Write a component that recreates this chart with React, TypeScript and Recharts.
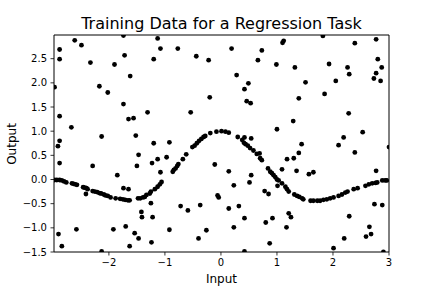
import { ReferenceArea, Scatter, ScatterChart, XAxis, YAxis } from "recharts";

// points that sit on the smooth curve
const curve: [number, number][] = [
  [-2.97, -0.01], [-2.93, -0.01], [-2.88, -0.01], [-2.84, -0.02], [-2.8, -0.04], [-2.76, -0.06],
  [-2.66, -0.08], [-2.63, -0.09], [-2.6, -0.1], [-2.57, -0.11], [-2.46, -0.16], [-2.43, -0.17],
  [-2.4, -0.18], [-2.38, -0.2], [-2.29, -0.24], [-2.25, -0.25], [-2.21, -0.26], [-2.17, -0.28],
  [-2.14, -0.29], [-2.09, -0.31], [-2.06, -0.33], [-2.02, -0.34], [-1.97, -0.37], [-1.88, -0.39],
  [-1.8, -0.4], [-1.75, -0.41], [-1.71, -0.42], [-1.66, -0.43], [-1.63, -0.43],
  [-1.48, -0.39], [-1.44, -0.39], [-1.39, -0.37], [-1.36, -0.36], [-1.33, -0.32], [-1.27, -0.29],
  [-1.25, -0.25], [-1.18, -0.2], [-1.13, -0.15], [-1.09, -0.1], [-1.06, -0.05],
  [-0.86, 0.16], [-0.84, 0.2], [-0.81, 0.23], [-0.78, 0.28], [-0.76, 0.32], [-0.68, 0.42],
  [-0.62, 0.52], [-0.51, 0.67], [-0.47, 0.7], [-0.43, 0.75], [-0.39, 0.8], [-0.35, 0.84],
  [-0.31, 0.88], [-0.28, 0.9], [-0.19, 0.96], [-0.08, 0.99], [0.01, 1.0], [0.08, 0.99],
  [0.14, 0.97], [0.3, 0.88], [0.38, 0.82], [0.41, 0.76], [0.44, 0.73], [0.48, 0.7],
  [0.52, 0.65], [0.58, 0.6], [0.64, 0.53], [0.7, 0.44], [0.73, 0.4], [0.84, 0.23],
  [0.88, 0.16], [0.91, 0.13], [0.94, 0.09], [0.97, 0.05], [1.0, 0.0], [1.03, -0.02],
  [1.09, -0.08], [1.15, -0.15], [1.18, -0.2], [1.21, -0.25], [1.31, -0.31], [1.36, -0.34],
  [1.4, -0.36], [1.45, -0.39], [1.47, -0.41], [1.6, -0.44], [1.65, -0.44], [1.72, -0.44],
  [1.77, -0.44], [1.83, -0.42], [1.89, -0.41], [1.95, -0.39], [2.01, -0.37], [2.1, -0.34],
  [2.16, -0.31], [2.22, -0.27], [2.26, -0.25], [2.37, -0.2], [2.44, -0.18], [2.58, -0.13],
  [2.64, -0.1], [2.7, -0.08], [2.76, -0.07], [2.79, -0.06], [2.88, -0.02], [2.93, -0.02],
  [2.96, -0.02],
];

// scattered noise points
const outliers: [number, number][] = [
  [-1.74, 2.98], [-1.13, 2.92], [-2.88, 2.69], [-2.61, 2.88], [-2.49, 2.78], [-2.88, 2.49],
  [-2.33, 2.42], [-1.9, 2.38], [-1.72, 2.57], [-1.2, 2.49], [-1.08, 2.71], [-1.62, 2.14],
  [-2.97, 1.91], [-2.17, 1.93], [-2.02, 1.8], [-1.74, 1.56], [-1.31, 1.39], [-2.88, 1.31],
  [-1.65, 1.25], [-1.56, 1.27], [-2.67, 1.08], [-2.13, 0.89], [-1.52, 0.91], [-2.88, 0.8],
  [-2.91, 0.69], [-1.2, 0.75], [-0.92, 0.77],
  [-0.77, 2.71], [0.19, 2.71], [0.73, 2.67], [-0.44, 2.55], [-0.22, 2.47], [0.66, 2.47],
  [0.99, 2.38], [0.28, 2.16], [0.49, 1.99], [0.42, 1.87], [-0.2, 1.7], [0.46, 1.62],
  [0.53, 1.58], [-0.54, 1.39], [1.0, 1.04], [0.54, 0.85], [0.42, 0.87],
  [1.12, 2.87], [1.1, 2.83], [1.82, 2.97], [2.39, 2.82], [2.77, 2.9], [1.32, 2.32],
  [1.93, 2.39], [2.26, 2.32], [2.8, 2.49], [2.87, 2.32], [2.77, 2.2], [2.73, 2.09],
  [2.85, 2.04], [2.29, 2.18], [1.51, 2.01], [2.05, 2.04], [1.85, 1.77], [1.39, 1.68],
  [2.28, 1.37], [1.29, 1.21], [2.53, 0.98], [2.19, 0.87], [1.44, 0.73], [2.1, 0.71],
  [3.0, 0.67],
  [-2.88, 0.34], [-2.29, 0.28], [-1.47, 0.51], [-1.5, 0.28], [-1.23, 0.34], [-1.13, 0.42],
  [-0.97, 0.46], [-1.08, 0.15], [-1.85, 0.09], [-1.74, -0.18], [-1.65, -0.2], [-1.42, -0.67],
  [-1.41, -0.78], [-1.22, -0.78], [-1.25, -0.49], [-2.9, -1.13], [-2.84, -1.38], [-2.58, -1.03],
  [-1.92, -1.03], [-1.7, -0.97], [-1.54, -1.11], [-1.47, -1.22], [-1.24, -1.3], [-1.63, -1.38],
  [-2.13, -1.49], [-0.92, -1.04], [-2.41, -0.3],
  [-0.11, 0.31], [0.14, 0.17], [0.23, -0.12], [-0.06, -0.33], [-0.04, -0.37], [-0.72, -0.55],
  [-0.59, -0.64], [-0.37, -0.53], [0.14, -0.6], [0.32, -0.55], [0.51, -0.06], [0.54, 0.09],
  [0.78, -0.24], [0.85, -0.3], [1.01, -0.13], [0.42, -0.8], [0.23, -0.99], [-0.26, -1.05],
  [-0.4, -1.22], [0.8, -0.89], [0.92, -0.8], [0.87, -1.32], [0.42, -1.49],
  [2.39, 0.56], [1.18, 0.42], [1.3, 0.44], [1.39, 0.55], [1.09, 0.21], [1.35, 0.18],
  [1.57, 0.11], [1.65, 0.15], [2.77, 0.18], [2.74, -0.51], [2.88, -0.53], [1.21, -0.7],
  [1.25, -0.78], [1.17, -0.99], [2.29, -0.76], [2.65, -0.98], [2.2, -1.22], [2.59, -1.18],
  [2.68, -1.13], [2.01, -1.42], [2.9, -1.5], [0.69, 0.54],
];

const xTicks = [-2, -1, 0, 1, 2, 3];
const yTicks = [-1.5, -1, -0.5, 0, 0.5, 1, 1.5, 2, 2.5];
const xDomain: [number, number] = [-2.98, 3.0];
const yDomain: [number, number] = [-1.5, 2.99];

const points = [...curve, ...outliers].map(([x, y]) => ({ x, y }));

const FONT = "'DejaVu Sans', sans-serif";

const fmt = (digits: number) => (v: number) =>
  (v < 0 ? "\u2212" : "") + Math.abs(v).toFixed(digits);

function Dot(props: any) {
  const { cx, cy } = props;
  if (cx == null || cy == null) return null;
  return <circle cx={cx} cy={cy} r={2.4} fill="#000" />;
}

const tickStyle = { fontSize: 10, fill: "#000", fontFamily: FONT };
const tickLine = { stroke: "#000", strokeWidth: 0.8 };

export default function App() {
  return (
    <div style={{ position: "absolute", left: 0, top: 0, background: "#fff" }}>
      <ScatterChart width={432} height={288} margin={{ top: 35, right: 43, bottom: 0, left: 0 }}>
        <XAxis
          type="number"
          dataKey="x"
          domain={xDomain}
          ticks={xTicks}
          interval={0}
          allowDataOverflow
          height={36}
          axisLine={false}
          tickLine={tickLine}
          tickSize={3.5}
          tickMargin={3.5}
          tick={tickStyle}
          tickFormatter={fmt(0)}
          label={{ value: "Input", position: "insideBottom", offset: 5, fontSize: 12, fill: "#000", fontFamily: FONT }}
        />
        <YAxis
          type="number"
          dataKey="y"
          domain={yDomain}
          ticks={yTicks}
          interval={0}
          allowDataOverflow
          width={54}
          axisLine={false}
          tickLine={tickLine}
          tickSize={3.5}
          tickMargin={3.5}
          tick={tickStyle}
          tickFormatter={fmt(1)}
          label={{
            content: () => (
              <text
                transform="translate(16, 144) rotate(-90)"
                textAnchor="middle"
                fontSize={12}
                fill="#000"
                fontFamily={FONT}
              >
                Output
              </text>
            ),
          }}
        />
        <ReferenceArea
          x1={xDomain[0]}
          x2={xDomain[1]}
          y1={yDomain[0]}
          y2={yDomain[1]}
          fill="none"
          stroke="#000"
          strokeWidth={1}
          label={{
            value: "Training Data for a Regression Task",
            position: "top",
            offset: 6,
            fontSize: 16,
            fill: "#000",
            fontFamily: FONT,
          }}
        />
        <Scatter data={points} shape={Dot} isAnimationActive={false} />
      </ScatterChart>
    </div>
  );
}
